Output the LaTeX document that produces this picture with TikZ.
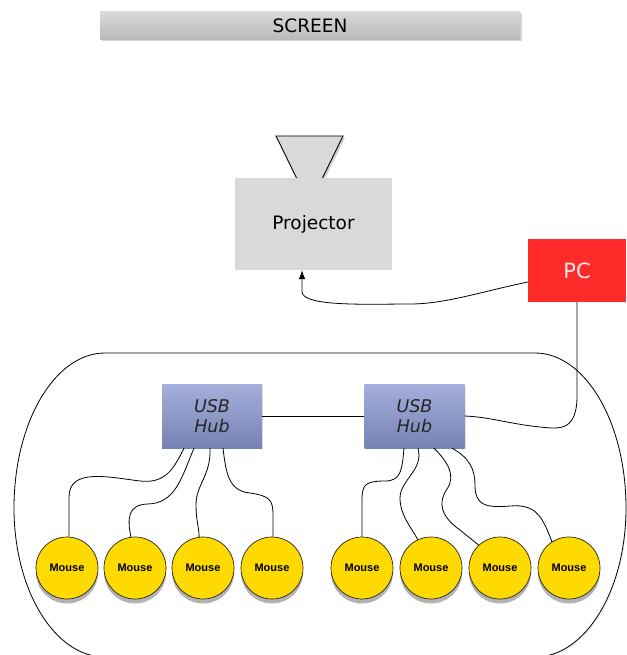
\documentclass[tikz,border=0pt]{standalone}
\usepackage{fontspec}
\setmainfont{DejaVu Sans}
\newfontfamily\mousefont{Liberation Sans}
\usetikzlibrary{arrows.meta,shadows,calc}
\definecolor{scrtop}{HTML}{D9D9D9}
\definecolor{scrbot}{HTML}{B9B9B9}
\definecolor{projgray}{HTML}{D9D9D9}
\definecolor{pcred}{HTML}{FF2A2A}
\definecolor{hubtop}{HTML}{A4B0DA}
\definecolor{hubbot}{HTML}{7682B4}
\definecolor{mouseyel}{HTML}{FFDA00}
\begin{document}
\begin{tikzpicture}[x=1pt,y=-1pt,
  screenbar/.style={inner sep=0pt, minimum width=420pt, minimum height=28pt,
    top color=scrtop, bottom color=scrbot,
    drop shadow={shadow xshift=1.5pt, shadow yshift=-1.5pt, opacity=.35},
    font=\fontsize{18.5}{22}\selectfont},
  projbox/.style={inner sep=0pt, fill=projgray, minimum width=157pt, minimum height=92pt,
    font=\fontsize{18.5}{22}\selectfont},
  pcbox/.style={inner sep=0pt, fill=pcred, minimum width=98pt, minimum height=63pt,
    text=black!8, font=\fontsize{21}{24}\selectfont},
  hubbox/.style={inner sep=0pt, minimum width=100pt, minimum height=64pt,
    top color=hubtop, bottom color=hubbot, align=center, text=black!85,
    drop shadow={shadow xshift=1pt, shadow yshift=-1pt, opacity=.2},
    font=\fontsize{17.5}{20}\selectfont\itshape},
  mousenode/.style={circle, draw=black!85, line width=0.7pt, fill=mouseyel, minimum size=62pt, inner sep=0pt,
    drop shadow={shadow xshift=0pt, shadow yshift=-4.5pt, opacity=.6},
    font=\mousefont\fontsize{11}{12}\selectfont\bfseries},
  cable/.style={draw=black, line width=0.8pt},
  enclosure/.style={draw=black, line width=0.8pt,
    drop shadow={shadow xshift=1pt, shadow yshift=-2pt, opacity=.12}, fill=white},
  lens/.style={draw=black, line width=0.9pt, fill=projgray,
    drop shadow={shadow xshift=2pt, shadow yshift=-2pt, opacity=.35}}
]
\useasboundingbox (0,0) rectangle (626,655);

% screen
\node[screenbar] (screen) at (310,26) {SCREEN};

% projector
\path[lens] (276,136) -- (343,136) -- (322,179) -- (297,179) -- cycle;
\node[projbox] (proj) at (313.5,224) {Projector};

% PC
\node[pcbox] (pc) at (577,270.5) {PC};

% enclosure
\path[enclosure] (105,353) -- (535,353)
  arc[start angle=-90, end angle=0, x radius=91, y radius=155]
  arc[start angle=0, end angle=90, x radius=91, y radius=149]
  -- (105,657)
  arc[start angle=90, end angle=180, x radius=91, y radius=149]
  arc[start angle=180, end angle=270, x radius=91, y radius=155] -- cycle;

% hubs
\node[hubbox] (hub1) at (212,416) {USB\\Hub};
\node[hubbox] (hub2) at (414.5,416) {USB\\Hub};

% mice
\foreach \i/\x in {1/67,2/135,3/203,4/272,5/362,6/431,7/500,8/569}{
  \node[mousenode] (m\i) at (\x,568) {Mouse};
}

% PC -> projector
\draw[cable, -{Latex[length=9pt,width=6.5pt]}] ([yshift=-11.5pt]pc.west)
  .. controls (480,292) and (445,304) .. (410,304)
  .. controls (370,304) and (303,307) .. (302,292)
  -- ([xshift=-11.5pt]proj.south);

% PC -> hub2
\draw[cable] (pc.south) -- (577,392)
  .. controls (578,432) and (560,429) .. (540,427)
  .. controls (510,424) and (490,417) .. (hub2.east);

% hub1 -- hub2
\draw[cable] (hub1.east) -- (hub2.east -| hub2.west);

% hub1 cables
\draw[cable] ([xshift=-28pt]hub1.south)
  .. controls (174,468) and (166,484) .. (140,481)
  .. controls (108,477) and (69,468) .. (69,497) -- (m1.north -| 69,0);
\draw[cable] ([xshift=-18pt]hub1.south)
  .. controls (182,476) and (176,504) .. (147,504)
  .. controls (128,505) and (127,518) .. (131,537);
\draw[cable] ([xshift=-2pt]hub1.south)
  .. controls (211,476) and (196,484) .. (196,505)
  .. controls (196,520) and (199,528) .. (m3.97);
\draw[cable] ([xshift=11pt]hub1.south)
  .. controls (226,472) and (228,491) .. (250,493)
  .. controls (270,496) and (273,500) .. (273,515) -- (m4.north -| 273,0);

% hub2 cables
\draw[cable] ([xshift=-10.5pt]hub2.south)
  .. controls (402,470) and (401,481) .. (385,481)
  .. controls (365,481) and (362,485) .. (362,500) -- (m5.north);
\draw[cable] ([xshift=3.5pt]hub2.south)
  .. controls (424,470) and (400,480) .. (400,498)
  .. controls (400,515) and (411,527) .. (m6.115);
\draw[cable] ([xshift=19.5pt]hub2.south)
  .. controls (448,462) and (456,476) .. (447,489)
  .. controls (438,502) and (440,516) .. (460,530) -- (m7.133);
\draw[cable] ([xshift=37.5pt]hub2.south)
  .. controls (470,458) and (475,470) .. (475,485)
  .. controls (475,505) and (485,508) .. (510,506)
  .. controls (535,504) and (542,515) .. (m8.123);
\end{tikzpicture}
\end{document}
